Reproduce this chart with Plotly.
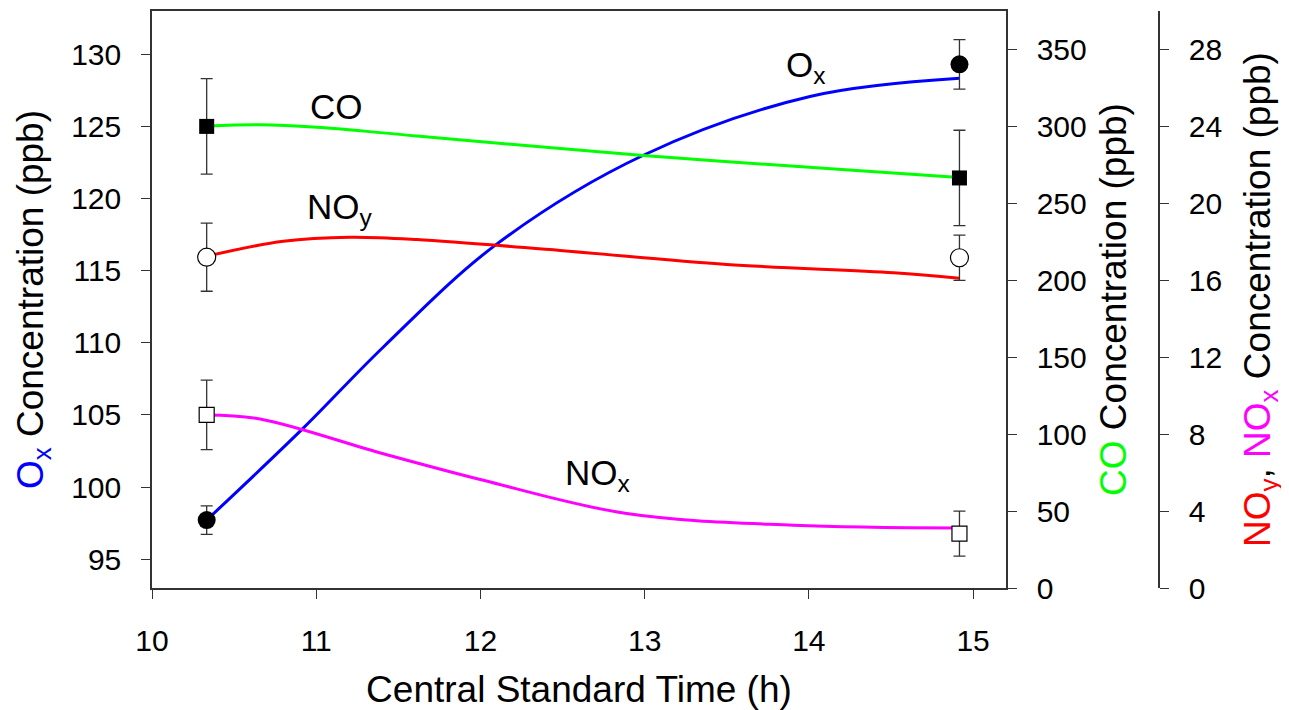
import plotly.graph_objects as go

# Measured points (Central Standard Time, h)
x_pts = [10.333, 14.917]
ox_vals = [97.71, 129.3]
ox_err = [0.99, 1.72]
co_vals = [300.0, 266.5]
co_err = [31.0, 31.0]
noy_vals = [17.2, 17.17]
noy_err = [1.77, 1.18]
nox_vals = [9.0, 2.83]
nox_err = [1.81, 1.17]

# Smooth trend curves
ox_curve_x = [10.333, 10.921, 11.409, 12.099, 12.992, 14.007, 14.917]
ox_curve_y = [97.71, 104.08, 109.71, 116.84, 123.0, 127.07, 128.33]
co_curve_x = [10.333, 10.658, 11.003, 11.612, 12.992, 14.312, 14.917]
co_curve_y = [300.2, 301.0, 299.4, 293.8, 281.1, 271.2, 266.8]
noy_curve_x = [10.333, 10.80, 11.206, 11.612, 12.485, 13.50, 14.515, 14.917]
noy_curve_y = [17.25, 18.03, 18.24, 18.12, 17.55, 16.82, 16.39, 16.10]
nox_curve_x = [10.333, 10.658, 11.409, 12.018, 12.891, 13.906, 14.917]
nox_curve_y = [9.0, 8.79, 6.98, 5.6, 3.87, 3.26, 3.12]

x_ticks = [10, 11, 12, 13, 14, 15]
ox_ticks = [95, 100, 105, 110, 115, 120, 125, 130]
co_ticks = [0, 50, 100, 150, 200, 250, 300, 350]
no_ticks = [0, 4, 8, 12, 16, 20, 24, 28]

FONT = "Arial, Liberation Sans, sans-serif"
AX = "#333333"
ERRC = "#333333"

fig = go.Figure()

# curves
fig.add_trace(go.Scatter(x=ox_curve_x, y=ox_curve_y, mode="lines", yaxis="y",
                         line=dict(color="#0000FF", width=3, shape="spline", smoothing=1.0),
                         showlegend=False))
fig.add_trace(go.Scatter(x=co_curve_x, y=co_curve_y, mode="lines", yaxis="y2",
                         line=dict(color="#00FF00", width=3, shape="spline", smoothing=1.0),
                         showlegend=False))
fig.add_trace(go.Scatter(x=noy_curve_x, y=noy_curve_y, mode="lines", yaxis="y3",
                         line=dict(color="#FF0000", width=3, shape="spline", smoothing=1.0),
                         showlegend=False))
fig.add_trace(go.Scatter(x=nox_curve_x, y=nox_curve_y, mode="lines", yaxis="y3",
                         line=dict(color="#FF00FF", width=3, shape="spline", smoothing=1.0),
                         showlegend=False))

def err(arr):
    return dict(type="data", array=arr, visible=True, color=ERRC, thickness=1.3, width=6)

fig.add_trace(go.Scatter(x=x_pts, y=ox_vals, mode="markers", yaxis="y", error_y=err(ox_err),
                         marker=dict(symbol="circle", size=18, color="black"), showlegend=False))
fig.add_trace(go.Scatter(x=x_pts, y=co_vals, mode="markers", yaxis="y2", error_y=err(co_err),
                         marker=dict(symbol="square", size=15, color="black"), showlegend=False))
fig.add_trace(go.Scatter(x=x_pts, y=noy_vals, mode="markers", yaxis="y3", error_y=err(noy_err),
                         marker=dict(symbol="circle", size=18, color="white",
                                     line=dict(color="black", width=1.2)), showlegend=False))
fig.add_trace(go.Scatter(x=x_pts, y=nox_vals, mode="markers", yaxis="y3", error_y=err(nox_err),
                         marker=dict(symbol="square", size=15, color="white",
                                     line=dict(color="black", width=1.2)), showlegend=False))

ann_font = dict(family=FONT, size=35, color="black")
annotations = [
    dict(text="CO", x=11.125, y=126.4, xref="x", yref="y", xanchor="center", yanchor="middle",
         showarrow=False, font=ann_font),
    dict(text="NO<sub>y</sub>", x=10.93, y=119.3, xref="x", yref="y", xanchor="left", yanchor="middle",
         showarrow=False, font=ann_font),
    dict(text="O<sub>x</sub>", x=13.85, y=129.1, xref="x", yref="y", xanchor="left", yanchor="middle",
         showarrow=False, font=ann_font),
    dict(text="NO<sub>x</sub>", x=12.50, y=100.8, xref="x", yref="y", xanchor="left", yanchor="middle",
         showarrow=False, font=ann_font),
]

tick_font = dict(family=FONT, size=30, color="black")
title_font = dict(family=FONT, size=37, color="black")

fig.update_layout(
    width=1289, height=710,
    margin=dict(l=144, r=138, t=1, b=130),
    paper_bgcolor="white", plot_bgcolor="white",
    font=dict(family=FONT, color="black"),
    annotations=annotations,
    xaxis=dict(domain=[0, 0.848], range=[10, 15.2], tickvals=x_ticks, ticks="outside", ticklen=9,
               tickwidth=1.3, tickcolor=AX, showline=True, linecolor=AX, linewidth=1.5, mirror=True,
               showgrid=False, zeroline=False, tickfont=tick_font, ticklabelstandoff=16,
               title=dict(text="Central Standard Time (h)", font=title_font, standoff=20)),
    yaxis=dict(range=[93, 133], tickvals=ox_ticks, ticks="outside", ticklen=9, tickwidth=1.3,
               tickcolor=AX, showline=True, linecolor=AX, linewidth=1.5, showgrid=False,
               zeroline=False, tickfont=tick_font, ticklabelstandoff=14,
               title=dict(text="<span style='color:#0000FF'>O<sub>x</sub></span> Concentration (ppb)",
                          font=title_font, standoff=16)),
    yaxis2=dict(range=[0, 375], tickvals=co_ticks, overlaying="y", side="right", anchor="x",
                ticks="outside", ticklen=9, tickwidth=1.3, tickcolor=AX, showline=True,
                linecolor=AX, linewidth=1.5, showgrid=False, zeroline=False, tickfont=tick_font,
                ticklabelstandoff=14,
                title=dict(text="<span style='color:#00FF00'>CO</span> Concentration (ppb)",
                           font=title_font, standoff=14)),
    yaxis3=dict(range=[0, 30], tickvals=no_ticks, overlaying="y", side="right", anchor="free",
                position=1.0, ticks="outside", ticklen=9, tickwidth=1.3, tickcolor=AX,
                showline=True, linecolor=AX, linewidth=1.5, showgrid=False, zeroline=False,
                tickfont=tick_font, ticklabelstandoff=14,
                title=dict(text="<span style='color:#FF0000'>NO<sub>y</sub></span>, "
                                "<span style='color:#FF00FF'>NO<sub>x</sub></span> Concentration (ppb)",
                           font=title_font, standoff=22)),
)

fig.write_html("out.html")
